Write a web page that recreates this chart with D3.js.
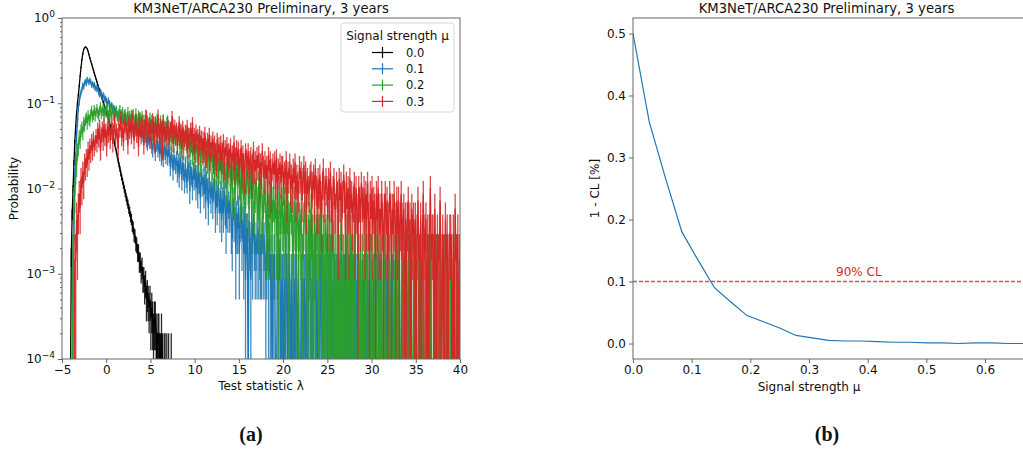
<!DOCTYPE html>
<html>
<head>
<meta charset="utf-8">
<script src="https://cdn.jsdelivr.net/npm/d3@7"></script>
<style>
  body { margin: 0; background: #fff; }
  text { font-family: "DejaVu Sans", sans-serif; fill: #111; }
</style>
</head>
<body>
<svg id="fig" width="1023" height="450"></svg>
<script>
// ---------- Test-statistic histograms (panel a) ----------
// Bin centres start at lambdaStart and step by binWidth.
const lambdaStart = -4.05;
const binWidth = 0.1;

const signalLabels = ["0.0", "0.1", "0.2", "0.3"];
const seriesColors = ["#000000", "#1f77b4", "#2ca02c", "#d62728"];
// probability carried by a single pseudo-experiment in each histogram
const probPerCount = [1.0e-4, 8.5e-4, 1.45e-3, 1.45e-3];

const countsMu00 = [
  0, 16, 50, 100, 200, 355, 537, 760, 1000, 1260,
  1585, 2090, 2630, 3240, 3800, 4270, 4470, 4570, 4520, 4365,
  4070, 3715, 3390, 3125, 2885, 2660, 2455, 2265, 2090, 1930,
  1780, 1640, 1510, 1410, 1320, 1215, 1135, 1045, 965, 890,
  820, 760, 700, 645, 595, 550, 500, 457, 412, 372,
  335, 302, 270, 240, 214, 190, 170, 151, 135, 122,
  110, 99, 89, 80, 72, 66, 58, 54, 47, 44,
  37, 35, 29, 28, 23, 22, 18, 18, 14, 14,
  11, 12, 9, 9, 7, 8, 5, 6, 5, 4,
  5, 3, 4, 3, 2, 3, 3, 2, 1, 2,
  2, 1, 1, 2, 1, 0, 1, 1, 0, 1,
  0, 1, 0, 0, 1, 0];

const countsMu01 = [
  0, 0, 0, 2, 5, 16, 26, 51, 70, 103,
  121, 146, 158, 170, 192, 183, 204, 212, 200, 226,
  214, 205, 221, 209, 192, 201, 188, 196, 176, 183,
  170, 174, 158, 149, 162, 153, 138, 147, 141, 129,
  133, 124, 115, 127, 118, 106, 112, 109, 98, 103,
  99, 92, 96, 87, 83, 90, 81, 86, 76, 80,
  77, 72, 79, 70, 66, 73, 68, 62, 69, 64,
  66, 60, 58, 64, 55, 61, 57, 52, 59, 54,
  51, 56, 48, 45, 53, 47, 42, 49, 44, 46,
  41, 49, 36, 33, 45, 40, 30, 38, 44, 33,
  37, 30, 41, 27, 35, 26, 38, 31, 28, 35,
  27, 34, 29, 21, 31, 25, 19, 29, 24, 22,
  27, 18, 25, 16, 27, 22, 15, 24, 19, 14,
  23, 16, 14, 24, 19, 11, 21, 17, 12, 20,
  15, 22, 12, 18, 10, 19, 14, 9, 18, 13,
  16, 10, 17, 8, 15, 12, 7, 16, 11, 9,
  14, 8, 12, 15, 6, 11, 7, 13, 9, 6,
  11, 5, 9, 6, 11, 7, 4, 10, 6, 8,
  6, 10, 4, 3, 9, 5, 7, 2, 6, 4,
  7, 2, 5, 8, 3, 5, 2, 6, 1, 4,
  4, 0, 5, 3, 1, 5, 2, 6, 3, 2,
  3, 2, 4, 2, 3, 2, 2, 5, 2, 3,
  2, 1, 2, 3, 1, 3, 1, 2, 0, 2,
  1, 2, 0, 0, 2, 1, 1, 3, 0, 1,
  1, 0, 1, 0, 2, 1, 0, 2, 1, 0,
  1, 0, 1, 1, 0, 2, 1, 0, 1, 0,
  0, 1, 1, 0, 1, 1, 0, 1, 0, 1,
  2, 1, 1, 0, 1, 1, 2, 1, 1, 0,
  1, 1, 0, 2, 1, 1, 1, 0, 1, 1,
  1, 0, 1, 1, 2, 1, 0, 1, 1, 1,
  0, 1, 1, 1, 0, 1, 2, 0, 1, 1,
  1, 0, 1, 1, 0, 1, 1, 0, 1, 1,
  1, 1, 0, 1, 0, 1, 1, 0, 1, 0,
  0, 1, 1, 0, 1, 0, 1, 0, 1, 0,
  1, 0, 0, 1, 1, 0, 1, 0, 0, 1,
  0, 1, 0, 0, 1, 0, 0, 1, 0, 0,
  1, 0, 0, 0, 1, 0, 0, 0, 1, 0,
  0, 0, 1, 0, 0, 0, 0, 1, 0, 0,
  0, 0, 0, 1, 0, 0, 0, 0, 0, 1,
  0];

const countsMu02 = [
  0, 0, 0, 1, 5, 6, 11, 13, 19, 21,
  28, 25, 33, 36, 31, 41, 38, 44, 47, 40,
  50, 45, 43, 52, 57, 48, 51, 58, 49, 55,
  60, 53, 50, 57, 63, 52, 56, 61, 48, 58,
  54, 62, 52, 49, 57, 60, 47, 55, 59, 50,
  46, 54, 57, 49, 45, 53, 58, 47, 51, 55,
  44, 50, 52, 43, 47, 55, 42, 49, 45, 51,
  41, 52, 44, 35, 53, 45, 38, 50, 34, 47,
  42, 49, 33, 44, 38, 51, 32, 43, 39, 31,
  47, 36, 44, 30, 42, 35, 41, 29, 45, 34,
  40, 31, 43, 28, 37, 44, 27, 36, 31, 41,
  26, 38, 29, 35, 24, 33, 39, 23, 32, 28,
  33, 22, 31, 27, 20, 32, 22, 30, 19, 27,
  28, 29, 18, 25, 30, 16, 24, 28, 17, 23,
  15, 26, 18, 23, 14, 25, 21, 13, 23, 17,
  22, 15, 23, 12, 20, 14, 22, 11, 19, 14,
  19, 12, 20, 10, 17, 11, 19, 9, 16, 11,
  16, 10, 17, 8, 15, 10, 7, 14, 9, 16,
  13, 7, 14, 6, 12, 15, 5, 11, 12, 7,
  12, 8, 5, 12, 6, 13, 5, 10, 4, 9,
  11, 7, 4, 8, 11, 3, 8, 10, 4, 6,
  9, 5, 3, 8, 2, 7, 10, 4, 3, 7,
  6, 4, 2, 7, 2, 6, 3, 9, 2, 5,
  5, 3, 6, 2, 4, 1, 7, 4, 2, 7,
  3, 2, 5, 1, 6, 2, 5, 1, 3, 5,
  4, 2, 1, 5, 3, 1, 3, 5, 1, 3,
  2, 4, 1, 1, 3, 5, 2, 3, 0, 2,
  3, 1, 4, 1, 2, 0, 4, 1, 2, 3,
  2, 0, 2, 4, 1, 1, 2, 0, 3, 2,
  1, 2, 0, 3, 0, 2, 1, 3, 1, 0,
  1, 0, 2, 1, 1, 0, 3, 1, 0, 1,
  0, 1, 1, 2, 0, 1, 0, 2, 1, 1,
  0, 2, 1, 0, 0, 1, 1, 0, 2, 0,
  1, 0, 0, 1, 1, 2, 0, 0, 1, 1,
  1, 1, 0, 0, 1, 0, 0, 2, 1, 0,
  1, 0, 1, 0, 0, 1, 1, 0, 0, 2,
  0, 1, 0, 1, 0, 0, 1, 0, 1, 1,
  0, 1, 1, 0, 0, 1, 1, 0, 1, 0,
  1, 0, 1, 0, 1, 1, 0, 0, 1, 0,
  1, 1, 0, 0, 1, 0, 1, 0, 0, 1,
  0, 0, 1, 0, 0, 1, 0, 1, 0, 0,
  0, 1, 0, 0, 1, 0, 0, 0, 1, 0,
  0, 0, 0, 1, 0, 0, 1, 0, 0, 0,
  1, 0, 0, 0, 1, 0, 0, 1, 0, 0,
  0];

const countsMu03 = [
  0, 0, 0, 0, 0, 1, 1, 3, 2, 4,
  6, 4, 9, 7, 11, 8, 14, 12, 16, 13,
  20, 15, 22, 18, 25, 19, 27, 21, 24, 29,
  23, 35, 26, 38, 19, 29, 36, 24, 40, 27,
  34, 21, 37, 29, 44, 25, 31, 41, 23, 33,
  45, 26, 34, 30, 20, 39, 33, 48, 27, 36,
  24, 37, 46, 31, 35, 22, 42, 32, 39, 28,
  49, 33, 25, 37, 43, 29, 35, 21, 47, 34,
  28, 44, 33, 22, 38, 35, 50, 24, 32, 41,
  25, 37, 30, 46, 34, 23, 42, 33, 28, 51,
  32, 22, 39, 36, 19, 44, 30, 37, 24, 34,
  43, 28, 25, 36, 33, 49, 23, 32, 38, 27,
  35, 22, 31, 42, 27, 34, 20, 37, 29, 26,
  33, 24, 38, 20, 30, 27, 35, 23, 41, 22,
  30, 19, 33, 25, 29, 17, 32, 24, 28, 18,
  27, 18, 31, 22, 16, 26, 21, 30, 15, 24,
  20, 27, 14, 24, 19, 13, 26, 18, 23, 15,
  24, 14, 19, 25, 12, 21, 17, 23, 11, 19,
  16, 22, 12, 18, 15, 24, 11, 17, 21, 13,
  20, 11, 16, 21, 10, 18, 14, 9, 19, 16,
  13, 19, 9, 15, 17, 8, 14, 20, 11, 15,
  11, 17, 12, 18, 8, 14, 10, 19, 13, 9,
  15, 9, 13, 7, 17, 11, 15, 6, 12, 14,
  10, 15, 8, 16, 6, 12, 10, 14, 8, 13,
  13, 7, 11, 9, 15, 5, 11, 9, 14, 7,
  10, 6, 12, 8, 14, 5, 10, 8, 6, 13,
  9, 11, 5, 9, 13, 6, 11, 4, 9, 7,
  6, 10, 11, 4, 8, 10, 5, 12, 7, 4,
  9, 4, 10, 6, 3, 8, 12, 5, 7, 9,
  7, 3, 9, 5, 11, 5, 3, 7, 9, 4,
  4, 8, 6, 2, 9, 5, 8, 3, 6, 10,
  6, 2, 8, 4, 7, 2, 9, 4, 6, 3,
  5, 8, 2, 7, 4, 1, 7, 5, 3, 8,
  5, 3, 7, 2, 6, 3, 8, 3, 1, 6,
  3, 7, 2, 5, 4, 1, 6, 3, 7, 2,
  4, 2, 6, 3, 1, 4, 6, 2, 5, 1,
  3, 6, 4, 1, 4, 2, 6, 3, 1, 5,
  2, 5, 1, 3, 6, 1, 3, 4, 0, 3,
  1, 3, 5, 1, 3, 0, 4, 2, 3, 1,
  3, 0, 2, 5, 1, 1, 3, 0, 2, 6,
  1, 2, 3, 0, 2, 0, 2, 7, 1, 2,
  2, 0, 4, 1, 0, 2, 1, 1, 5, 1,
  0, 2, 1, 0, 3, 1, 2, 0, 1, 2,
  2, 1, 0, 2, 0, 4, 1, 1, 2, 0,
  1];

const lambdaTicks = [-5, 0, 5, 10, 15, 20, 25, 30, 35, 40];
const probDecades = [-4, -3, -2, -1, 0];

// ---------- Upper-limit scan (panel b) ----------
const muScan = [0, 0.0278, 0.0556, 0.0833, 0.1111, 0.1389, 0.1667, 0.1944, 0.2222, 0.25,
  0.2778, 0.3056, 0.3333, 0.3611, 0.3889, 0.4167, 0.4444, 0.4722, 0.5, 0.5278,
  0.5556, 0.5833, 0.6111, 0.6389, 0.6667];
const oneMinusCL = [0.500, 0.357, 0.266, 0.180, 0.134, 0.090, 0.067, 0.045, 0.035, 0.025,
  0.013, 0.009, 0.005, 0.004, 0.004, 0.003, 0.002, 0.002, 0.001, 0.001,
  0.000, 0.001, 0.001, 0.000, 0.000];
const clLevel = 0.1;
const muTicks = [0, 0.1, 0.2, 0.3, 0.4, 0.5, 0.6];
const clTicks = [0, 0.1, 0.2, 0.3, 0.4, 0.5];

const titleText = "KM3NeT/ARCA230 Preliminary, 3 years";

const svg = d3.select("#fig");
const axisColor = "#666";

function styleAxis(g) {
  g.selectAll(".domain").remove();
  g.selectAll(".tick line").attr("stroke", axisColor).attr("stroke-width", 1);
  g.selectAll(".tick text").attr("font-size", 12).attr("fill", "#111")
    .style("font-family", '"DejaVu Sans", sans-serif');
}

// ================= Panel (a) =================
const A = { left: 62, right: 460, top: 18, bottom: 359 };
const xL = d3.scaleLinear().domain([-5, 40]).range([A.left, A.right]);
const yL = d3.scaleLog().domain([1e-4, 1]).range([A.bottom, A.top]);
const belowAxis = A.bottom + 40;

const defs = svg.append("defs");
defs.append("clipPath").attr("id", "clipA")
  .append("rect").attr("x", A.left).attr("y", A.top)
  .attr("width", A.right - A.left).attr("height", A.bottom - A.top);

const plotA = svg.append("g").attr("clip-path", "url(#clipA)");
const countsList = [countsMu00, countsMu01, countsMu02, countsMu03];

countsList.forEach((counts, k) => {
  const unit = probPerCount[k];
  const color = seriesColors[k];
  const pts = counts.map((n, i) => ({ lam: lambdaStart + i * binWidth, n }));
  const g = plotA.append("g");
  // bin contents joined by a line
  const line = d3.line()
    .x(d => xL(d.lam))
    .y(d => d.n > 0 ? yL(d.n * unit) : belowAxis);
  g.append("path").attr("d", line(pts))
    .attr("fill", "none").attr("stroke", color).attr("stroke-width", 1.3);
  // statistical error bars (sqrt N)
  g.selectAll("line").data(pts.filter(d => d.n > 0)).join("line")
    .attr("x1", d => xL(d.lam)).attr("x2", d => xL(d.lam))
    .attr("y1", d => {
      const lo = (d.n - Math.sqrt(d.n)) * unit;
      return lo > 0 ? yL(lo) : belowAxis;
    })
    .attr("y2", d => yL((d.n + Math.sqrt(d.n)) * unit))
    .attr("stroke", color).attr("stroke-width", 1.3).attr("stroke-opacity", 0.85);
});

// frame
svg.append("rect").attr("x", A.left).attr("y", A.top)
  .attr("width", A.right - A.left).attr("height", A.bottom - A.top)
  .attr("fill", "none").attr("stroke", axisColor).attr("stroke-width", 1);

// x axis
const gxA = svg.append("g").attr("transform", `translate(0,${A.bottom})`)
  .call(d3.axisBottom(xL).tickValues(lambdaTicks).tickSize(4).tickPadding(2)
    .tickFormat(d => d < 0 ? "\u2212" + Math.abs(d) : String(d)));
styleAxis(gxA);

// y axis: decades with superscript labels, plus minor ticks
const gyA = svg.append("g").attr("transform", `translate(${A.left},0)`)
  .call(d3.axisLeft(yL).tickValues(probDecades.map(e => Math.pow(10, e))).tickSize(4).tickPadding(3)
    .tickFormat(() => ""));
styleAxis(gyA);
gyA.selectAll(".tick text").each(function (d) {
  const e = Math.round(Math.log10(d));
  const t = d3.select(this).text(null).attr("font-size", 12);
  t.append("tspan").text("10");
  t.append("tspan").attr("dy", "-0.55em").attr("font-size", 9)
    .text(e < 0 ? "\u2212" + Math.abs(e) : String(e));
});
const minorVals = [];
probDecades.slice(0, -1).forEach(e => { for (let m = 2; m <= 9; m++) minorVals.push(m * Math.pow(10, e)); });
const gyAm = svg.append("g").attr("transform", `translate(${A.left},0)`)
  .call(d3.axisLeft(yL).tickValues(minorVals).tickSize(2).tickFormat(() => ""));
styleAxis(gyAm);

svg.append("text").attr("x", (A.left + A.right) / 2).attr("y", 13)
  .attr("text-anchor", "middle").attr("font-size", 13.2).text(titleText);
svg.append("text").attr("x", (A.left + A.right) / 2).attr("y", 390)
  .attr("text-anchor", "middle").attr("font-size", 12)
  .text("Test statistic  \u03bb");
svg.append("text").attr("transform", `translate(18,${(A.top + A.bottom) / 2}) rotate(-90)`)
  .attr("text-anchor", "middle").attr("font-size", 12).text("Probability");

// legend
const leg = svg.append("g");
leg.append("rect").attr("x", 341).attr("y", 23).attr("width", 113).attr("height", 89)
  .attr("rx", 3).attr("fill", "#fff").attr("fill-opacity", 0.85)
  .attr("stroke", "#d8d8d8").attr("stroke-width", 1);
leg.append("text").attr("x", 397.5).attr("y", 40).attr("text-anchor", "middle")
  .attr("font-size", 12).text("Signal strength \u03bc");
signalLabels.forEach((lab, k) => {
  const yy = 52.5 + k * 16.3;
  leg.append("line").attr("x1", 372).attr("x2", 393).attr("y1", yy).attr("y2", yy)
    .attr("stroke", seriesColors[k]).attr("stroke-width", 1.2);
  leg.append("line").attr("x1", 382.5).attr("x2", 382.5).attr("y1", yy - 5.5).attr("y2", yy + 5.5)
    .attr("stroke", seriesColors[k]).attr("stroke-width", 1.2);
  leg.append("text").attr("x", 406).attr("y", yy + 4.2).attr("font-size", 11.5).text(lab);
});

svg.append("text").attr("x", (A.left + A.right) / 2 - 10).attr("y", 441)
  .attr("text-anchor", "middle").attr("font-size", 20).attr("font-weight", "bold")
  .style("font-family", '"Liberation Serif", "DejaVu Serif", serif').text("(a)");

// ================= Panel (b) =================
const B = { left: 633, top: 18, bottom: 359 };
const xB = d3.scaleLinear().domain([0, 0.6667]).range([B.left, B.left + 0.6667 * 586.7]);
const yB = d3.scaleLinear().domain([-0.025, 0.525]).range([B.bottom, B.top]);
B.right = xB(0.6667);

defs.append("clipPath").attr("id", "clipB")
  .append("rect").attr("x", B.left).attr("y", B.top)
  .attr("width", B.right - B.left).attr("height", B.bottom - B.top);
const plotB = svg.append("g").attr("clip-path", "url(#clipB)");

plotB.append("line").attr("x1", B.left).attr("x2", B.right)
  .attr("y1", yB(clLevel)).attr("y2", yB(clLevel))
  .style("stroke", "#e24a4b").attr("stroke-width", 1.3)
  .attr("stroke-dasharray", "4,2");

const clLine = d3.line().x((d, i) => xB(muScan[i])).y(d => yB(d));
plotB.append("path").attr("d", clLine(oneMinusCL))
  .attr("fill", "none").attr("stroke", "#1f77b4").attr("stroke-width", 1.2);

svg.append("text").attr("x", xB(0.385)).attr("y", yB(clLevel) - 6)
  .attr("text-anchor", "middle").attr("font-size", 12).style("fill", "#d62728").text("90% CL");

svg.append("rect").attr("x", B.left).attr("y", B.top)
  .attr("width", B.right - B.left).attr("height", B.bottom - B.top)
  .attr("fill", "none").attr("stroke", axisColor).attr("stroke-width", 1);

const gxB = svg.append("g").attr("transform", `translate(0,${B.bottom})`)
  .call(d3.axisBottom(xB).tickValues(muTicks).tickSize(4).tickPadding(2).tickFormat(d3.format(".1f")));
styleAxis(gxB);
const gyB = svg.append("g").attr("transform", `translate(${B.left},0)`)
  .call(d3.axisLeft(yB).tickValues(clTicks).tickSize(4).tickPadding(3).tickFormat(d3.format(".1f")));
styleAxis(gyB);

svg.append("text").attr("x", (B.left + 1020) / 2).attr("y", 13)
  .attr("text-anchor", "middle").attr("font-size", 13.2).text(titleText);
svg.append("text").attr("x", xB(0.3)).attr("y", 391)
  .attr("text-anchor", "middle").attr("font-size", 12).text("Signal strength \u03bc");
svg.append("text").attr("transform", `translate(599,${(B.top + B.bottom) / 2}) rotate(-90)`)
  .attr("text-anchor", "middle").attr("font-size", 12).text("1 - CL [%]");

svg.append("text").attr("x", 827).attr("y", 441)
  .attr("text-anchor", "middle").attr("font-size", 20).attr("font-weight", "bold")
  .style("font-family", '"Liberation Serif", "DejaVu Serif", serif').text("(b)");
</script>
</body>
</html>
